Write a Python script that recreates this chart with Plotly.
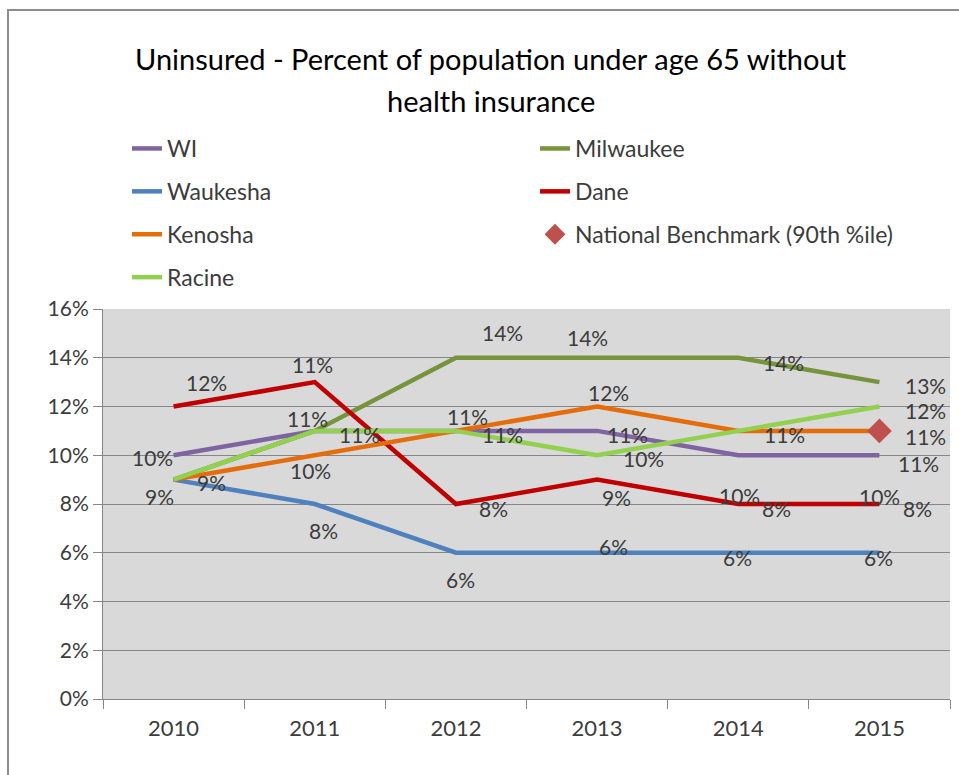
import plotly.graph_objects as go

# ---- data -------------------------------------------------------------
years = ["2010", "2011", "2012", "2013", "2014", "2015"]

wi = [10, 11, 11, 11, 10, 10]
milwaukee = [9, 11, 14, 14, 14, 13]
waukesha = [9, 8, 6, 6, 6, 6]
dane = [12, 13, 8, 9, 8, 8]
kenosha = [9, 10, 11, 12, 11, 11]
racine = [9, 11, 11, 10, 11, 12]
benchmark_year = ["2015"]
benchmark = [11]

y_ticks = [0, 2, 4, 6, 8, 10, 12, 14, 16]

# ---- styling ----------------------------------------------------------
FONT = "Lato"
TEXT = "#3C3C3C"

W, H = 959, 775
L, R, T, B = 103, 9, 309, 76
PW, PH = W - L - R, H - T - B


def px_x(px):
    return (px - L) / PW


def px_y(py):
    return (H - B - py) / PH


series = [
    # name, values, colour, legend, rank
    ("WI", wi, "#8064A2", "legend", 1),
    ("Milwaukee", milwaukee, "#77933C", "legend2", 2),
    ("Waukesha", waukesha, "#4F81BD", "legend", 3),
    ("Dane", dane, "#C00000", "legend2", 4),
    ("Kenosha", kenosha, "#E46C0A", "legend", 5),
    ("Racine", racine, "#92D050", "legend", 7),
]

# label offsets in pixels (dx right, dy down) from each point; None = no label
label_offsets = {
    "WI": [(-21, 2), (-7, -12), (47, 4), (30, 4), (1, 40), (0, 41)],
    "Milwaukee": [None, (-2, -66), (47, -25), (-10, -20), (45, 5), (46, 3)],
    "Waukesha": [(-14, 17), (9, 26), (5, 27), (16, -6), (-1, 5), (-1, 5)],
    "Dane": [(33, -24), None, (38, 4), (19, 18), (38, 4), (38, 4)],
    "Kenosha": [(38, 3), (-4, 15), (12, -14), (11, -14), (46, 4), (39, 33)],
    "Racine": [None, (45, 4), None, (46, 3), None, (46, 4)],
}
benchmark_offset = (46, 6)

label_font = dict(family=FONT, size=21, color=TEXT)


def value_label(year, value, off):
    # category axes take the position index for annotations
    return dict(
        x=years.index(year), y=value, xref="x", yref="y",
        text=f"{value}%", showarrow=False, borderpad=0,
        xshift=off[0], yshift=-off[1], xanchor="center", yanchor="middle",
        font=label_font,
    )


fig = go.Figure()
annotations = []

for name, vals, color, leg, rank in series:
    fig.add_trace(go.Scatter(
        x=years, y=vals, mode="lines", name=name,
        line=dict(color=color, width=4.5),
        legend=leg, legendrank=rank, legendgroup=name,
        hoverinfo="skip",
    ))
    for x, v, off in zip(years, vals, label_offsets[name]):
        if off is not None:
            annotations.append(value_label(x, v, off))

fig.add_trace(go.Scatter(
    x=benchmark_year, y=benchmark, mode="markers",
    name="National Benchmark (90th %ile)",
    marker=dict(symbol="diamond", size=19, color="#C0504D"),
    legend="legend2", legendrank=6, legendgroup="bench",
    hoverinfo="skip",
))
for x, v in zip(benchmark_year, benchmark):
    annotations.append(value_label(x, v, benchmark_offset))

# two-line title
title_font = dict(family=FONT, size=29, color="#000000")
annotations.append(dict(
    x=px_x(491), y=px_y(58), xref="paper", yref="paper", showarrow=False,
    text="Uninsured - Percent of population under age 65 without",
    xanchor="center", yanchor="middle", font=title_font,
))
annotations.append(dict(
    x=px_x(491), y=px_y(101), xref="paper", yref="paper", showarrow=False,
    text="health insurance", xanchor="center", yanchor="middle", font=title_font,
))

legend_style = dict(
    orientation="v", bgcolor="rgba(0,0,0,0)", borderwidth=0,
    font=dict(family=FONT, size=23, color=TEXT),
    traceorder="grouped", tracegroupgap=10, yanchor="top", xanchor="left",
    itemwidth=30,
)

fig.update_layout(
    width=W, height=H,
    margin=dict(l=L, r=R, t=T, b=B, pad=0),
    paper_bgcolor="#ffffff",
    plot_bgcolor="#D9D9D9",
    showlegend=True,
    legend=dict(x=px_x(127), y=px_y(127), **legend_style),
    legend2=dict(x=px_x(535), y=px_y(127), **legend_style),
    annotations=annotations,
    xaxis=dict(
        type="category", categoryorder="array", categoryarray=years,
        range=[-0.5, len(years) - 0.5],
        showgrid=False, showline=True, linecolor="#868686", linewidth=1,
        ticks="outside", tickson="boundaries", ticklen=9, tickcolor="#868686",
        tickfont=dict(family=FONT, size=22, color=TEXT),
        ticklabelstandoff=10, zeroline=False,
    ),
    yaxis=dict(
        range=[0, 16], tickvals=y_ticks, ticktext=[f"{t}%" for t in y_ticks],
        showgrid=True, gridcolor="#868686", gridwidth=1,
        showline=True, linecolor="#868686", linewidth=1,
        ticks="outside", ticklen=9, tickcolor="#868686",
        tickfont=dict(family=FONT, size=21, color=TEXT),
        zeroline=False,
    ),
    shapes=[
        # chart frame (continues past the right and bottom edges)
        dict(type="rect", xref="paper", yref="paper",
             x0=px_x(8), x1=px_x(1000), y0=px_y(820), y1=px_y(10),
             line=dict(color="#8C8C8C", width=2), fillcolor="rgba(0,0,0,0)",
             layer="below"),
    ],
)

fig.write_html("out.html")
